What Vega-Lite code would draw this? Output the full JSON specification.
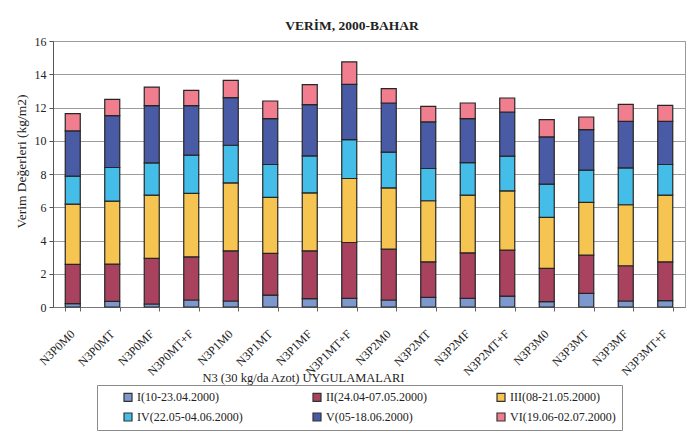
{
  "$schema": "https://vega.github.io/schema/vega-lite/v6.json",
  "width": 632,
  "height": 266,
  "autosize": {"type": "none"},
  "padding": {"left": 53, "top": 41, "right": 8, "bottom": 127},
  "background": "white",
  "title": {
    "text": "VERİM, 2000-BAHAR",
    "font": "Liberation Serif",
    "fontSize": 13.5,
    "fontWeight": "bold",
    "color": "#222",
    "anchor": "middle",
    "dx": -17,
    "offset": 3
  },
  "config": {
    "view": {"stroke": "#9a9a9a", "strokeWidth": 1},
    "axis": {
      "labelFont": "Liberation Serif",
      "titleFont": "Liberation Serif",
      "labelColor": "#222",
      "titleColor": "#222",
      "titleFontWeight": "normal"
    },
    "legend": {
      "labelFont": "Liberation Serif"
    }
  },
  "data": {
    "values": [
      {"u": "N3P0M0", "d": "I(10-23.04.2000)", "v": 0.20},
      {"u": "N3P0M0", "d": "II(24.04-07.05.2000)", "v": 2.36},
      {"u": "N3P0M0", "d": "III(08-21.05.2000)", "v": 3.63},
      {"u": "N3P0M0", "d": "IV(22.05-04.06.2000)", "v": 1.68},
      {"u": "N3P0M0", "d": "V(05-18.06.2000)", "v": 2.72},
      {"u": "N3P0M0", "d": "VI(19.06-02.07.2000)", "v": 1.04},

      {"u": "N3P0MT", "d": "I(10-23.04.2000)", "v": 0.34},
      {"u": "N3P0MT", "d": "II(24.04-07.05.2000)", "v": 2.24},
      {"u": "N3P0MT", "d": "III(08-21.05.2000)", "v": 3.79},
      {"u": "N3P0MT", "d": "IV(22.05-04.06.2000)", "v": 2.02},
      {"u": "N3P0MT", "d": "V(05-18.06.2000)", "v": 3.12},
      {"u": "N3P0MT", "d": "VI(19.06-02.07.2000)", "v": 0.98},

      {"u": "N3P0MF", "d": "I(10-23.04.2000)", "v": 0.18},
      {"u": "N3P0MF", "d": "II(24.04-07.05.2000)", "v": 2.74},
      {"u": "N3P0MF", "d": "III(08-21.05.2000)", "v": 3.81},
      {"u": "N3P0MF", "d": "IV(22.05-04.06.2000)", "v": 1.94},
      {"u": "N3P0MF", "d": "V(05-18.06.2000)", "v": 3.44},
      {"u": "N3P0MF", "d": "VI(19.06-02.07.2000)", "v": 1.12},

      {"u": "N3P0MT+F", "d": "I(10-23.04.2000)", "v": 0.42},
      {"u": "N3P0MT+F", "d": "II(24.04-07.05.2000)", "v": 2.60},
      {"u": "N3P0MT+F", "d": "III(08-21.05.2000)", "v": 3.81},
      {"u": "N3P0MT+F", "d": "IV(22.05-04.06.2000)", "v": 2.30},
      {"u": "N3P0MT+F", "d": "V(05-18.06.2000)", "v": 2.98},
      {"u": "N3P0MT+F", "d": "VI(19.06-02.07.2000)", "v": 0.92},

      {"u": "N3P1M0", "d": "I(10-23.04.2000)", "v": 0.36},
      {"u": "N3P1M0", "d": "II(24.04-07.05.2000)", "v": 3.02},
      {"u": "N3P1M0", "d": "III(08-21.05.2000)", "v": 4.09},
      {"u": "N3P1M0", "d": "IV(22.05-04.06.2000)", "v": 2.26},
      {"u": "N3P1M0", "d": "V(05-18.06.2000)", "v": 2.86},
      {"u": "N3P1M0", "d": "VI(19.06-02.07.2000)", "v": 1.04},

      {"u": "N3P1MT", "d": "I(10-23.04.2000)", "v": 0.72},
      {"u": "N3P1MT", "d": "II(24.04-07.05.2000)", "v": 2.50},
      {"u": "N3P1MT", "d": "III(08-21.05.2000)", "v": 3.37},
      {"u": "N3P1MT", "d": "IV(22.05-04.06.2000)", "v": 1.98},
      {"u": "N3P1MT", "d": "V(05-18.06.2000)", "v": 2.76},
      {"u": "N3P1MT", "d": "VI(19.06-02.07.2000)", "v": 1.06},

      {"u": "N3P1MF", "d": "I(10-23.04.2000)", "v": 0.50},
      {"u": "N3P1MF", "d": "II(24.04-07.05.2000)", "v": 2.88},
      {"u": "N3P1MF", "d": "III(08-21.05.2000)", "v": 3.49},
      {"u": "N3P1MF", "d": "IV(22.05-04.06.2000)", "v": 2.22},
      {"u": "N3P1MF", "d": "V(05-18.06.2000)", "v": 3.08},
      {"u": "N3P1MF", "d": "VI(19.06-02.07.2000)", "v": 1.20},

      {"u": "N3P1MT+F", "d": "I(10-23.04.2000)", "v": 0.52},
      {"u": "N3P1MT+F", "d": "II(24.04-07.05.2000)", "v": 3.36},
      {"u": "N3P1MT+F", "d": "III(08-21.05.2000)", "v": 3.85},
      {"u": "N3P1MT+F", "d": "IV(22.05-04.06.2000)", "v": 2.34},
      {"u": "N3P1MT+F", "d": "V(05-18.06.2000)", "v": 3.32},
      {"u": "N3P1MT+F", "d": "VI(19.06-02.07.2000)", "v": 1.35},

      {"u": "N3P2M0", "d": "I(10-23.04.2000)", "v": 0.42},
      {"u": "N3P2M0", "d": "II(24.04-07.05.2000)", "v": 3.06},
      {"u": "N3P2M0", "d": "III(08-21.05.2000)", "v": 3.69},
      {"u": "N3P2M0", "d": "IV(22.05-04.06.2000)", "v": 2.14},
      {"u": "N3P2M0", "d": "V(05-18.06.2000)", "v": 2.96},
      {"u": "N3P2M0", "d": "VI(19.06-02.07.2000)", "v": 0.86},

      {"u": "N3P2MT", "d": "I(10-23.04.2000)", "v": 0.58},
      {"u": "N3P2MT", "d": "II(24.04-07.05.2000)", "v": 2.14},
      {"u": "N3P2MT", "d": "III(08-21.05.2000)", "v": 3.67},
      {"u": "N3P2MT", "d": "IV(22.05-04.06.2000)", "v": 1.94},
      {"u": "N3P2MT", "d": "V(05-18.06.2000)", "v": 2.80},
      {"u": "N3P2MT", "d": "VI(19.06-02.07.2000)", "v": 0.94},

      {"u": "N3P2MF", "d": "I(10-23.04.2000)", "v": 0.52},
      {"u": "N3P2MF", "d": "II(24.04-07.05.2000)", "v": 2.74},
      {"u": "N3P2MF", "d": "III(08-21.05.2000)", "v": 3.47},
      {"u": "N3P2MF", "d": "IV(22.05-04.06.2000)", "v": 1.96},
      {"u": "N3P2MF", "d": "V(05-18.06.2000)", "v": 2.64},
      {"u": "N3P2MF", "d": "VI(19.06-02.07.2000)", "v": 0.94},

      {"u": "N3P2MT+F", "d": "I(10-23.04.2000)", "v": 0.66},
      {"u": "N3P2MT+F", "d": "II(24.04-07.05.2000)", "v": 2.76},
      {"u": "N3P2MT+F", "d": "III(08-21.05.2000)", "v": 3.57},
      {"u": "N3P2MT+F", "d": "IV(22.05-04.06.2000)", "v": 2.08},
      {"u": "N3P2MT+F", "d": "V(05-18.06.2000)", "v": 2.66},
      {"u": "N3P2MT+F", "d": "VI(19.06-02.07.2000)", "v": 0.84},

      {"u": "N3P3M0", "d": "I(10-23.04.2000)", "v": 0.32},
      {"u": "N3P3M0", "d": "II(24.04-07.05.2000)", "v": 2.00},
      {"u": "N3P3M0", "d": "III(08-21.05.2000)", "v": 3.07},
      {"u": "N3P3M0", "d": "IV(22.05-04.06.2000)", "v": 2.00},
      {"u": "N3P3M0", "d": "V(05-18.06.2000)", "v": 2.84},
      {"u": "N3P3M0", "d": "VI(19.06-02.07.2000)", "v": 1.04},

      {"u": "N3P3MT", "d": "I(10-23.04.2000)", "v": 0.82},
      {"u": "N3P3MT", "d": "II(24.04-07.05.2000)", "v": 2.30},
      {"u": "N3P3MT", "d": "III(08-21.05.2000)", "v": 3.17},
      {"u": "N3P3MT", "d": "IV(22.05-04.06.2000)", "v": 1.94},
      {"u": "N3P3MT", "d": "V(05-18.06.2000)", "v": 2.44},
      {"u": "N3P3MT", "d": "VI(19.06-02.07.2000)", "v": 0.76},

      {"u": "N3P3MF", "d": "I(10-23.04.2000)", "v": 0.36},
      {"u": "N3P3MF", "d": "II(24.04-07.05.2000)", "v": 2.12},
      {"u": "N3P3MF", "d": "III(08-21.05.2000)", "v": 3.67},
      {"u": "N3P3MF", "d": "IV(22.05-04.06.2000)", "v": 2.22},
      {"u": "N3P3MF", "d": "V(05-18.06.2000)", "v": 2.80},
      {"u": "N3P3MF", "d": "VI(19.06-02.07.2000)", "v": 1.02},

      {"u": "N3P3MT+F", "d": "I(10-23.04.2000)", "v": 0.38},
      {"u": "N3P3MT+F", "d": "II(24.04-07.05.2000)", "v": 2.34},
      {"u": "N3P3MT+F", "d": "III(08-21.05.2000)", "v": 4.01},
      {"u": "N3P3MT+F", "d": "IV(22.05-04.06.2000)", "v": 1.84},
      {"u": "N3P3MT+F", "d": "V(05-18.06.2000)", "v": 2.60},
      {"u": "N3P3MT+F", "d": "VI(19.06-02.07.2000)", "v": 0.96}
    ]
  },
  "mark": {"type": "bar", "stroke": "#262626", "strokeWidth": 1.2},
  "encoding": {
    "x": {
      "field": "u",
      "type": "nominal",
      "sort": null,
      "scale": {"paddingInner": 0.62, "paddingOuter": 0.31},
      "axis": {
        "title": "N3 (30 kg/da Azot) UYGULAMALARI",
        "titleFontSize": 12.5,
        "titleX": 250,
        "titleY": 64,
        "titleAnchor": "middle",
        "labelAngle": -45,
        "labelFontSize": 12,
        "labelPadding": 17,
        "labelOffset": -4,
        "tickBand": "extent",
        "tickSize": 4,
        "tickColor": "#666",
        "domainColor": "#777",
        "grid": false
      }
    },
    "y": {
      "field": "v",
      "type": "quantitative",
      "aggregate": "sum",
      "stack": "zero",
      "scale": {"domain": [0, 16], "nice": false},
      "axis": {
        "title": "Verim Değerleri (kg/m2)",
        "titleFontSize": 13.5,
        "titleX": -25,
        "titleY": 120,
        "values": [0, 2, 4, 6, 8, 10, 12, 14, 16],
        "labelFontSize": 12,
        "labelPadding": 3,
        "tickSize": 4,
        "tickColor": "#555",
        "domainColor": "#555",
        "gridColor": "#9c9c9c",
        "gridWidth": 1
      }
    },
    "color": {
      "field": "d",
      "type": "nominal",
      "sort": [
        "I(10-23.04.2000)",
        "II(24.04-07.05.2000)",
        "III(08-21.05.2000)",
        "IV(22.05-04.06.2000)",
        "V(05-18.06.2000)",
        "VI(19.06-02.07.2000)"
      ],
      "scale": {
        "range": ["#7d98cc", "#a8425f", "#f6c451", "#45bde9", "#4a5ba6", "#f07e8e"]
      },
      "legend": {
        "title": null,
        "orient": "none",
        "legendX": 44,
        "legendY": 344,
        "columns": 3,
        "direction": "horizontal",
        "symbolType": "square",
        "symbolSize": 64,
        "symbolStrokeColor": "#333",
        "symbolStrokeWidth": 1.2,
        "symbolOffset": 19,
        "labelFontSize": 12,
        "labelColor": "#222",
        "labelOffset": 3,
        "columnPadding": 49,
        "rowPadding": 6,
        "padding": 6,
        "strokeColor": "#8a8a8a",
        "fillColor": "white"
      }
    },
    "order": {"field": "d", "sort": "ascending"}
  }
}
